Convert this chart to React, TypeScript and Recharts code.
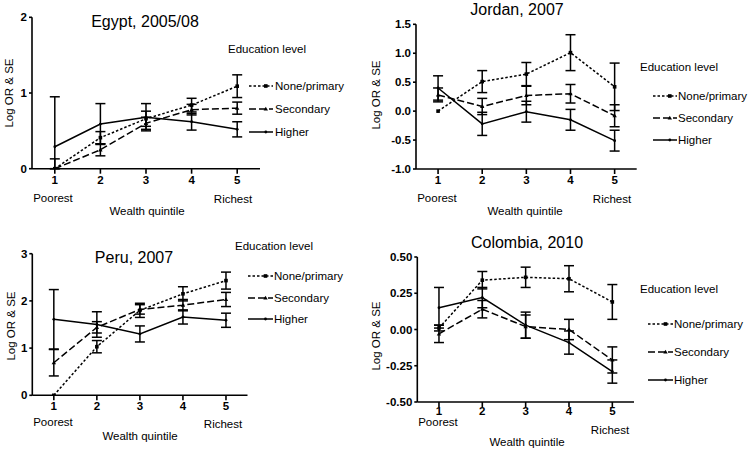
import React from 'react';
import { LineChart, Line, XAxis, YAxis, ErrorBar, Legend } from 'recharts';

const FONT = '"Liberation Sans", Arial, Helvetica, sans-serif';

type Err = number | [number, number];

const quintiles = [1, 2, 3, 4, 5];
const seriesNames = ['None/primary', 'Secondary', 'Higher'];

// Egypt, 2005/08 (bars that run below the 0 axis are cut at 0 as in the figure)
const egyptNone = [0, 0.41, 0.66, 0.84, 1.09];
const egyptNoneSe: Err[] = [[0, 0.13], 0.08, 0.1, 0.09, 0.15];
const egyptSec = [0, 0.25, 0.6, 0.78, 0.8];
const egyptSecSe: Err[] = [0, 0.08, 0.08, 0.07, 0.08];
const egyptHigher = [0.29, 0.59, 0.68, 0.62, 0.52];
const egyptHigherSe: Err[] = [[0.29, 0.66], 0.27, 0.18, 0.11, 0.1];
const egyptTicks = [0, 1, 2];

// Jordan, 2007
const jordanNone = [0, 0.51, 0.64, 1.01, 0.42];
const jordanNoneSe: Err[] = [0, 0.19, 0.2, 0.31, 0.41];
const jordanSec = [0.28, 0.08, 0.27, 0.3, -0.08];
const jordanSecSe: Err[] = [0.12, 0.14, 0.16, 0.16, 0.19];
const jordanHigher = [0.4, -0.22, -0.01, -0.15, -0.51];
const jordanHigherSe: Err[] = [0.21, 0.2, 0.18, 0.18, 0.18];
const jordanTicks = [-1, -0.5, 0, 0.5, 1, 1.5];

// Peru, 2007
const peruNone = [0, 1.03, 1.8, 2.15, 2.43];
const peruNoneSe: Err[] = [0, 0.13, 0.15, 0.15, 0.18];
const peruSec = [0.69, 1.44, 1.82, 1.91, 2.03];
const peruSecSe: Err[] = [0.28, 0.12, 0.1, 0.12, 0.15];
const peruHigher = [1.61, 1.5, 1.3, 1.66, 1.59];
const peruHigherSe: Err[] = [0.63, 0.27, 0.17, 0.15, 0.15];
const peruTicks = [0, 1, 2, 3];

// Colombia, 2010
const colombiaNone = [0.01, 0.34, 0.36, 0.35, 0.19];
const colombiaNoneSe: Err[] = [0.02, 0.06, 0.07, 0.09, 0.12];
const colombiaSec = [-0.03, 0.14, 0.02, 0, -0.21];
const colombiaSecSe: Err[] = [0.06, 0.06, 0.08, 0.07, 0.09];
const colombiaHigher = [0.15, 0.22, 0.03, -0.09, -0.29];
const colombiaHigherSe: Err[] = [0.14, 0.07, 0.09, 0.08, 0.08];
const colombiaTicks = [-0.5, -0.25, 0, 0.25, 0.5];

function buildRows(none: number[], noneSe: Err[], sec: number[], secSe: Err[], hi: number[], hiSe: Err[]) {
  return quintiles.map((q, i) => ({
    q,
    none: none[i],
    noneErr: noneSe[i],
    sec: sec[i],
    secErr: secSe[i],
    higher: hi[i],
    higherErr: hiSe[i],
  }));
}

const DASH = ['2.5 2', '7 3', undefined];

function Marker({ kind, cx, cy }: { kind: number; cx: number; cy: number }) {
  if (kind === 0) return <rect x={cx - 1.8} y={cy - 1.8} width={3.6} height={3.6} fill="#000" />;
  if (kind === 1) return <polygon points={`${cx},${cy - 2.2} ${cx + 2.2},${cy + 1.6} ${cx - 2.2},${cy + 1.6}`} fill="#000" />;
  return <circle cx={cx} cy={cy} r={1.4} fill="#000" />;
}

const makeDot = (kind: number) => (p: any) => <Marker key={p.index} kind={kind} cx={p.cx} cy={p.cy} />;

interface PanelCfg {
  title: string;
  x: number;
  y: number;
  w: number;
  rows: ReturnType<typeof buildRows>;
  yDomain: [number, number];
  yTicks: number[];
  fmt: (v: number) => string;
  plot: { left: number; right: number; top: number; bottom: number };
  xTickMargin: number;
  titlePos: [number, number];
  yLabel: [number, number];
  poorest: [number, number];
  richest: [number, number];
  xLabel: [number, number];
  legend: { headX: number; headY: number; x1: number; x2: number; tx: number; ys: number[] };
}

const panels: PanelCfg[] = [
  {
    title: 'Egypt, 2005/08',
    x: 0, y: 0, w: 375,
    rows: buildRows(egyptNone, egyptNoneSe, egyptSec, egyptSecSe, egyptHigher, egyptHigherSe),
    yDomain: [0, 2], yTicks: egyptTicks, fmt: (v) => String(v),
    plot: { left: 32, right: 260, top: 17.3, bottom: 168.7 },
    xTickMargin: 2,
    titlePos: [145, 21.5], yLabel: [10, 93],
    poorest: [53, 199], richest: [233, 200], xLabel: [147, 212],
    legend: { headX: 228, headY: 49, x1: 249, x2: 273, tx: 275, ys: [86, 109, 132] },
  },
  {
    title: 'Jordan, 2007',
    x: 375, y: 0, w: 376,
    rows: buildRows(jordanNone, jordanNoneSe, jordanSec, jordanSecSe, jordanHigher, jordanHigherSe),
    yDomain: [-1, 1.5], yTicks: jordanTicks, fmt: (v) => v.toFixed(1),
    plot: { left: 41, right: 261.7, top: 24.3, bottom: 169 },
    xTickMargin: 2,
    titlePos: [142, 10], yLabel: [2, 95],
    poorest: [62, 199], richest: [237, 200], xLabel: [150, 212],
    legend: { headX: 265, headY: 67, x1: 278, x2: 302, tx: 303, ys: [96, 118, 140] },
  },
  {
    title: 'Peru, 2007',
    x: 0, y: 226, w: 375,
    rows: buildRows(peruNone, peruNoneSe, peruSec, peruSecSe, peruHigher, peruHigherSe),
    yDomain: [0, 3], yTicks: peruTicks, fmt: (v) => String(v),
    plot: { left: 32.3, right: 247.5, top: 27.7, bottom: 169.3 },
    xTickMargin: 1.5,
    titlePos: [134, 32], yLabel: [12, 100],
    poorest: [53, 197], richest: [223, 199], xLabel: [140, 211],
    legend: { headX: 235, headY: 20, x1: 248, x2: 273, tx: 274, ys: [50, 72, 93] },
  },
  {
    title: 'Colombia, 2010',
    x: 375, y: 226, w: 376,
    rows: buildRows(colombiaNone, colombiaNoneSe, colombiaSec, colombiaSecSe, colombiaHigher, colombiaHigherSe),
    yDomain: [-0.5, 0.5], yTicks: colombiaTicks, fmt: (v) => v.toFixed(2),
    plot: { left: 42.3, right: 259, top: 31, bottom: 176 },
    xTickMargin: 0,
    titlePos: [152, 17], yLabel: [2, 110],
    poorest: [63, 197], richest: [235, 205], xLabel: [152, 217],
    legend: { headX: 265, headY: 63, x1: 273, x2: 298, tx: 299, ys: [98, 126, 154] },
  },
];

const X_AXIS_H = 20;
const H = 226;

function Label({ pos, text, size = 11.5, rotate = false }: { pos: [number, number]; text: string; size?: number; rotate?: boolean }) {
  return (
    <div
      style={{
        position: 'absolute',
        left: pos[0],
        top: pos[1],
        transform: `translate(-50%, -50%)${rotate ? ' rotate(-90deg)' : ''}`,
        fontFamily: FONT,
        fontSize: size,
        lineHeight: 1,
        whiteSpace: 'nowrap',
        color: '#000',
      }}
    >
      {text}
    </div>
  );
}

function Panel({ cfg }: { cfg: PanelCfg }) {
  const { plot, legend } = cfg;
  const axisTick = { fill: '#000', fontSize: 11.5, fontWeight: 'bold', fontFamily: FONT };
  return (
    <div style={{ position: 'absolute', left: cfg.x, top: cfg.y, width: cfg.w, height: H }}>
      <LineChart
        width={cfg.w}
        height={H}
        data={cfg.rows}
        margin={{ top: plot.top, right: cfg.w - plot.right, bottom: H - plot.bottom - X_AXIS_H, left: 0 }}
      >
        <XAxis
          dataKey="q"
          type="number"
          domain={[0.5, 5.5]}
          ticks={quintiles}
          height={X_AXIS_H}
          tickSize={5}
          tickMargin={cfg.xTickMargin}
          stroke="#000"
          strokeWidth={1.6}
          tick={axisTick}
        />
        <YAxis
          width={plot.left}
          domain={cfg.yDomain}
          ticks={cfg.yTicks}
          allowDataOverflow
          tickFormatter={cfg.fmt}
          tickSize={3}
          tickMargin={2}
          stroke="#000"
          strokeWidth={1.6}
          tick={axisTick}
        />
        {(['none', 'sec', 'higher'] as const).map((key, k) => (
          <Line
            key={key}
            dataKey={key}
            name={seriesNames[k]}
            stroke="#000"
            strokeWidth={1.5}
            strokeDasharray={DASH[k]}
            dot={makeDot(k)}
            isAnimationActive={false}
          >
            <ErrorBar dataKey={`${key}Err`} direction="y" width={5} stroke="#000" strokeWidth={1.5} />
          </Line>
        ))}
        <Legend
          layout="vertical"
          align="center"
          verticalAlign="middle"
          wrapperStyle={{ left: 0, top: 0, width: cfg.w, height: H, pointerEvents: 'none' }}
          content={() => (
            <svg width={cfg.w} height={H} style={{ position: 'absolute', left: 0, top: 0, overflow: 'visible' }}>
              <text x={legend.headX} y={legend.headY} dominantBaseline="central" fontFamily={FONT} fontSize={11.5} fill="#000">
                Education level
              </text>
              {seriesNames.map((name, k) => (
                <g key={name}>
                  <line
                    x1={legend.x1}
                    x2={legend.x2}
                    y1={legend.ys[k]}
                    y2={legend.ys[k]}
                    stroke="#000"
                    strokeWidth={1.5}
                    strokeDasharray={DASH[k]}
                  />
                  <Marker kind={k} cx={legend.x1 + (legend.x2 - legend.x1) * 0.7} cy={legend.ys[k]} />
                  <text x={legend.tx} y={legend.ys[k]} dominantBaseline="central" fontFamily={FONT} fontSize={11.5} fill="#000">
                    {name}
                  </text>
                </g>
              ))}
            </svg>
          )}
        />
      </LineChart>
      <Label pos={cfg.titlePos} text={cfg.title} size={16} />
      <Label pos={cfg.yLabel} text="Log OR & SE" size={11.5} rotate />
      <Label pos={cfg.poorest} text="Poorest" />
      <Label pos={cfg.richest} text="Richest" />
      <Label pos={cfg.xLabel} text="Wealth quintile" />
    </div>
  );
}

export default function App() {
  return (
    <div style={{ position: 'absolute', left: 0, top: 0, width: 751, height: 452, background: '#fff' }}>
      {panels.map((p) => (
        <Panel key={p.title} cfg={p} />
      ))}
    </div>
  );
}
